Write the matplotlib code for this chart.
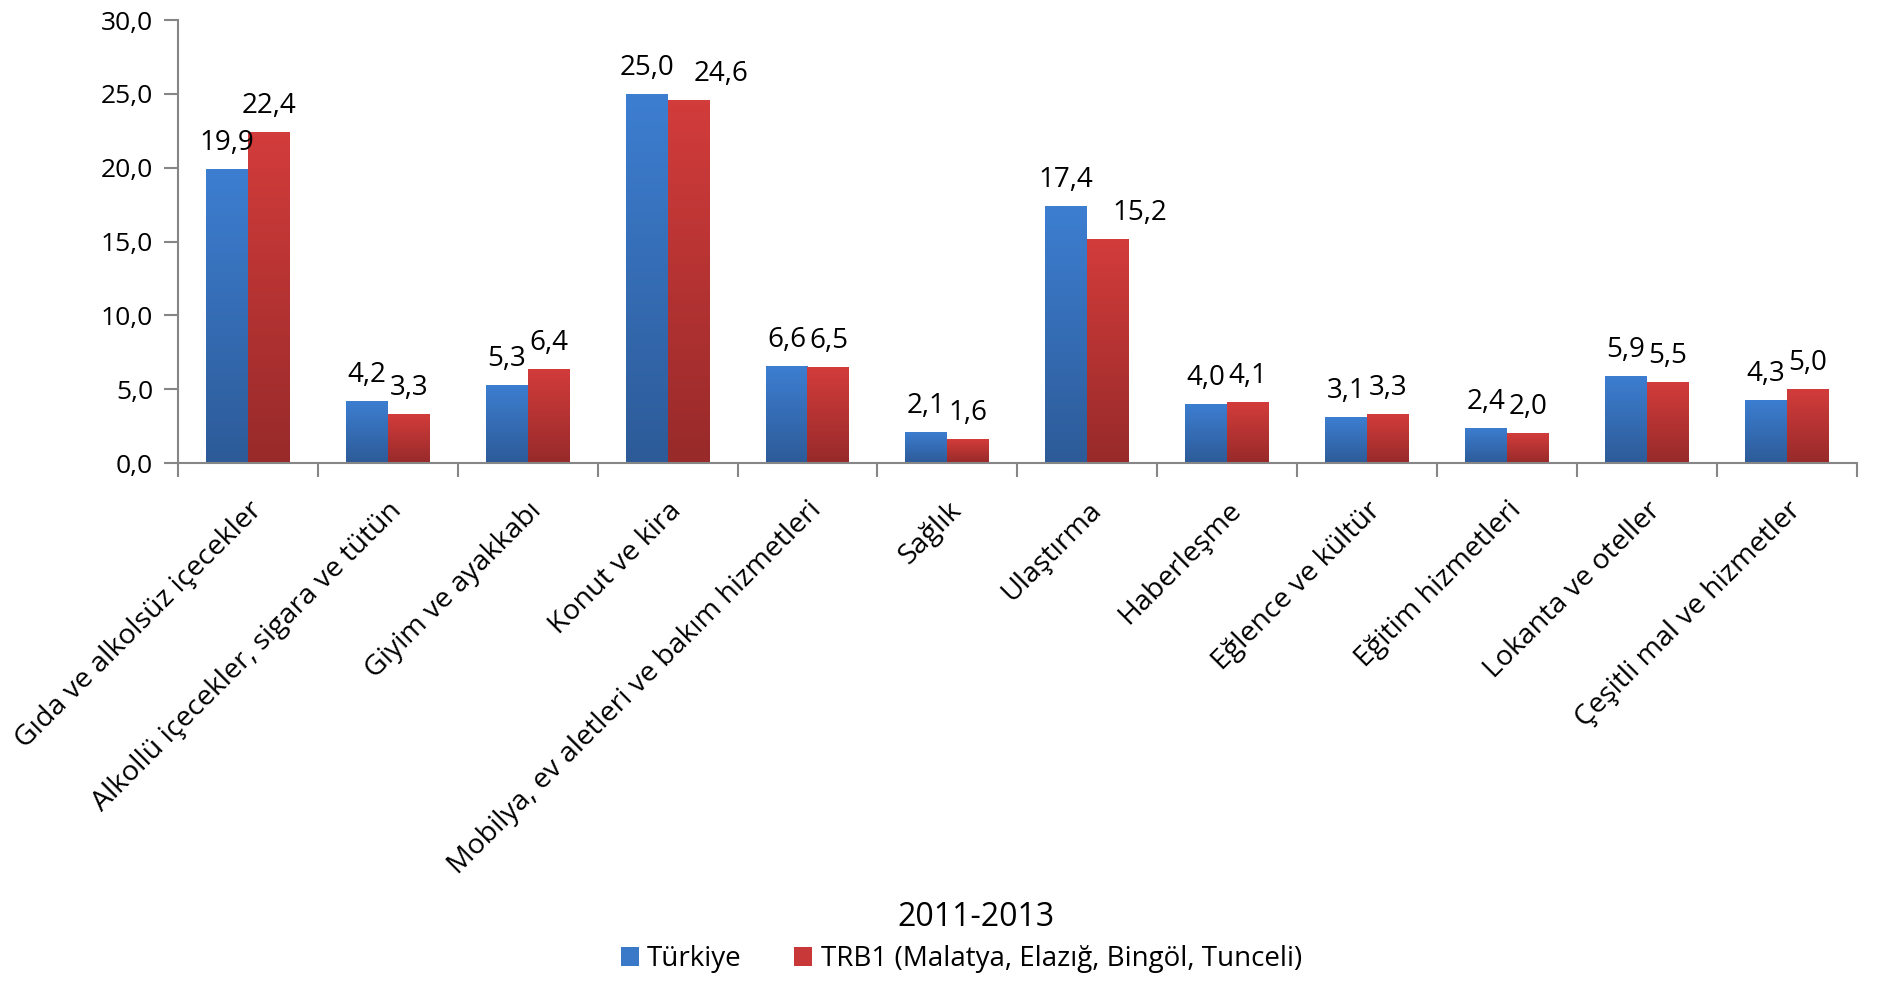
import numpy as np
import matplotlib
matplotlib.use("Agg")
import matplotlib.pyplot as plt
from matplotlib.colors import LinearSegmentedColormap

categories = [
	"Gıda ve alkolsüz içecekler",
	"Alkollü içecekler, sigara ve tütün",
	"Giyim ve ayakkabı",
	"Konut ve kira",
	"Mobilya, ev aletleri ve bakım hizmetleri",
	"Sağlık",
	"Ulaştırma",
	"Haberleşme",
	"Eğlence ve kültür",
	"Eğitim hizmetleri",
	"Lokanta ve oteller",
	"Çeşitli mal ve hizmetler",
]
turkiye = [19.9, 4.2, 5.3, 25.0, 6.6, 2.1, 17.4, 4.0, 3.1, 2.4, 5.9, 4.3]
trb1 = [22.4, 3.3, 6.4, 24.6, 6.5, 1.6, 15.2, 4.1, 3.3, 2.0, 5.5, 5.0]
series_names = ["Türkiye", "TRB1 (Malatya, Elazığ, Bingöl, Tunceli)"]
title = "2011-2013"

plt.rcParams['font.family'] = ['Open Sans', 'DejaVu Sans']

fig = plt.figure(figsize=(18.85, 9.81), dpi=100)
ax = fig.add_axes([0.0944, 0.528, 0.8906, 0.4516])

x = np.arange(len(categories))
w = 0.3
grads = [
	LinearSegmentedColormap.from_list("b", ["#2d5b98", "#3d7ed1"]),
	LinearSegmentedColormap.from_list("r", ["#982a2a", "#d23c3b"]),
]
faces = ["#3a78c8", "#c93838"]

def fmt(v) :
	return f"{v:.1f}".replace('.', ',')

labels_by_series = []
for k, (vals, off) in enumerate([(turkiye, -w / 2), (trb1, w / 2)]) :
	bars = ax.bar(x + off, vals, width=w, color=faces[k], label=series_names[k], zorder=2)
	lab_lst = []
	for b, v in zip(bars, vals) :
		x0, x1 = b.get_x(), b.get_x() + b.get_width()
		im = ax.imshow(np.linspace(0, 1, 100).reshape(-1, 1), cmap=grads[k], origin='lower',
			extent=[x0, x1, 0, v], aspect='auto', zorder=2.5)
		im.set_clip_path(b)
		t = ax.annotate(fmt(v), (b.get_x() + b.get_width() / 2, v), xytext=(0, 12),
			textcoords='offset pixels', ha='center', va='bottom', fontsize=20, zorder=3)
		lab_lst.append(t)
	labels_by_series.append(lab_lst)

ax.set_xlim(-0.5, len(categories) - 0.5)
ax.set_ylim(0, 30)
ax.set_yticks(np.arange(0, 31, 5))
ax.set_yticklabels([fmt(v) for v in np.arange(0, 31, 5)], fontsize=19)

ax.set_xticks(x)
ax.set_xticklabels(categories, rotation=45, ha='right', rotation_mode='anchor', fontsize=20.5)
ax.tick_params(axis='x', length=0, pad=24)
ax.set_xticks(np.arange(-0.5, len(categories)), minor=True)
ax.tick_params(axis='x', which='minor', length=10, width=1.5, color='#868686')
ax.tick_params(axis='y', length=10, width=1.5, color='#868686', pad=8)

for s in ['top', 'right'] :
	ax.spines[s].set_visible(False)
for s in ['left', 'bottom'] :
	ax.spines[s].set_color('#868686')
	ax.spines[s].set_linewidth(1.5)

fig.text(0.518, 0.065, title, ha='center', va='center', fontsize=23)
handles, labels = ax.get_legend_handles_labels()
fig.legend(handles, labels, loc='center', bbox_to_anchor=(0.51, 0.022), ncol=2, frameon=False,
	fontsize=20, handlelength=0.65, handleheight=0.65, handletextpad=0.3, columnspacing=1.9)

# move the red label aside when two labels sit too close (like Excel does)
fig.canvas.draw()
r = fig.canvas.get_renderer()
for tb, tr in zip(*labels_by_series) :
	eb, er = tb.get_window_extent(r), tr.get_window_extent(r)
	if eb.x1 > er.x0 and abs(eb.y0 - er.y0) < 34 :
		tr.set_position((32, 12))

fig.savefig("out.png", dpi=100)
